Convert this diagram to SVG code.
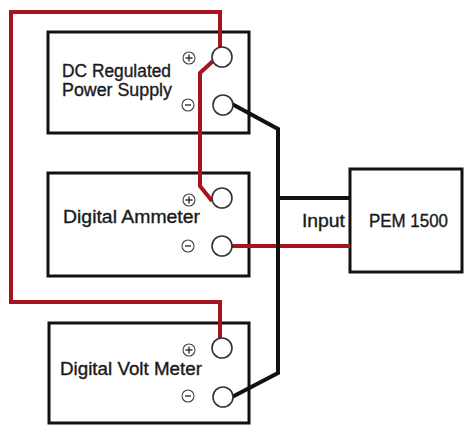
<svg xmlns="http://www.w3.org/2000/svg" width="464" height="425" viewBox="0 0 464 425">
<style>
.box{fill:#fff;stroke:#111;stroke-width:3}
.term{fill:#fff;stroke:#333;stroke-width:1.6}
.sym{fill:#fff;stroke:#444;stroke-width:1.1}
.symline{stroke:#333;stroke-width:1.4;fill:none}
.lbl{font-family:"Liberation Sans",Arial,sans-serif;font-size:17.5px;fill:#1a1a1a;stroke:#1a1a1a;stroke-width:0.35}
.red{fill:none;stroke:#a8141b;stroke-width:4;stroke-linejoin:miter}
.blk{fill:none;stroke:#111;stroke-width:4;stroke-linejoin:miter}
</style>
<rect width="464" height="425" fill="#fff"/>
<g id="psu">
<rect class="box" x="48" y="32" width="201" height="101"/>
<text class="lbl" x="62" y="77" textLength="109" lengthAdjust="spacingAndGlyphs">DC Regulated</text>
<text class="lbl" x="62" y="96" textLength="110" lengthAdjust="spacingAndGlyphs">Power Supply</text>
</g>
<g id="ammeter">
<rect class="box" x="48" y="173" width="201" height="103"/>
<text class="lbl" x="63" y="223" textLength="137" lengthAdjust="spacingAndGlyphs">Digital Ammeter</text>
</g>
<g id="voltmeter">
<rect class="box" x="49" y="323" width="200" height="100"/>
<text class="lbl" x="60" y="375" textLength="142" lengthAdjust="spacingAndGlyphs">Digital Volt Meter</text>
</g>
<g id="pem">
<rect class="box" x="350" y="169" width="112" height="103"/>
<text class="lbl" x="369" y="227" textLength="79" lengthAdjust="spacingAndGlyphs">PEM 1500</text>
</g>
<g id="connectors">
<path class="red" d="M11,300 L11,12 L220,12 L220,48"/>
<path class="red" d="M11,300 L11,302 L220,302 L220,339"/>
<path class="red" d="M213,61 L200,73 L200,186 L212,201"/>
<path class="red" d="M232,246 L350,246"/>
<path class="blk" d="M232,104 L278,129 L278,373 L232,397"/>
<path class="blk" d="M278,198 L350,198"/>
</g>
<text class="lbl" x="302" y="227" textLength="43" lengthAdjust="spacingAndGlyphs">Input</text>
<g id="terminals">
<circle class="term" cx="222" cy="57" r="10"/>
<circle class="term" cx="223" cy="105" r="10"/>
<circle class="term" cx="222" cy="198" r="10"/>
<circle class="term" cx="222" cy="246" r="10"/>
<circle class="term" cx="222" cy="348" r="10"/>
<circle class="term" cx="223" cy="397" r="10"/>
</g>
<g id="symbols">
<circle class="sym" cx="189" cy="58" r="6"/><path class="symline" d="M185.5,58 H192.5 M189,54.5 V61.5"/>
<circle class="sym" cx="188" cy="105" r="6"/><path class="symline" d="M185,105 H191" stroke-width="2.4"/>
<circle class="sym" cx="189" cy="200" r="6"/><path class="symline" d="M185.5,200 H192.5 M189,196.5 V203.5"/>
<circle class="sym" cx="188" cy="246" r="6"/><path class="symline" d="M185,246 H191" stroke-width="2.4"/>
<circle class="sym" cx="189" cy="350" r="6"/><path class="symline" d="M185.5,350 H192.5 M189,346.5 V353.5"/>
<circle class="sym" cx="188" cy="396" r="6"/><path class="symline" d="M185,396 H191" stroke-width="2.4"/>
</g>
</svg>
